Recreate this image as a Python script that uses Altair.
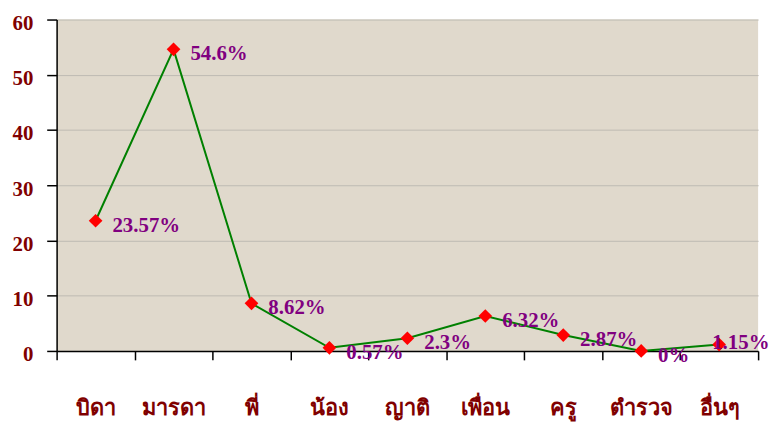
import altair as alt
import pandas as pd

categories = ["บิดา", "มารดา", "พี่", "น้อง", "ญาติ", "เพื่อน", "ครู", "ตำรวจ", "อื่นๆ"]
values = [23.57, 54.6, 8.62, 0.57, 2.3, 6.32, 2.87, 0, 1.15]
labels = ["23.57%", "54.6%", "8.62%", "0.57%", "2.3%", "6.32%", "2.87%", "0%", "1.15%"]

df = pd.DataFrame({"cat": categories, "val": values, "lab": labels})

x = alt.X("cat:N", sort=categories, title=None,
          scale=alt.Scale(paddingInner=0, paddingOuter=0),
          axis=alt.Axis(labelAngle=0, labelFont="Liberation Serif", labelFontSize=22,
                        labelFontWeight="bold", labelColor="#800000", labelPadding=38,
                        tickBand="extent", tickSize=9, tickColor="#000000", tickWidth=1.5,
                        domainColor="#000000", domainWidth=1.5, grid=False))
y = alt.Y("val:Q", title=None,
          scale=alt.Scale(domain=[0, 60], nice=False),
          axis=alt.Axis(values=[0, 10, 20, 30, 40, 50, 60], labelFont="Liberation Serif",
                        labelFontSize=21, labelFontWeight="bold", labelColor="#800000",
                        labelPadding=14, labelOffset=4, tickSize=10, tickColor="#000000",
                        tickWidth=1.5, domainColor="#000000", domainWidth=1.5,
                        grid=True, gridColor="#BDBAB2", gridWidth=1))

base = alt.Chart(df)
last = categories[-1]
line = base.mark_line(color="#008000", strokeWidth=2).encode(x=x, y=y)
pts = base.mark_point(shape="diamond", filled=True, color="#FF0000", size=190, opacity=1).encode(x=x, y=y)
txt_style = dict(align="left", baseline="middle", font="Liberation Serif",
                 fontSize=21, fontWeight="bold", color="#800080")
txt = base.transform_filter(alt.datum.cat != last).mark_text(dx=17, dy=5, **txt_style).encode(
    x=x, y=y, text="lab:N")
txt_last = base.transform_filter(alt.datum.cat == last).mark_text(dx=-7, dy=-2, **txt_style).encode(
    x=x, y=y, text="lab:N")

chart = (line + pts + txt + txt_last).properties(
    width=707, height=334,
    autosize=alt.AutoSizeParams(type="none"),
    padding={"left": 49, "top": 10, "right": 14, "bottom": 72},
    background="#FFFFFF",
).configure_view(fill="#E0D9CC", stroke=None)

chart.save("out.html", embed_options={"renderer": "svg", "actions": False})
